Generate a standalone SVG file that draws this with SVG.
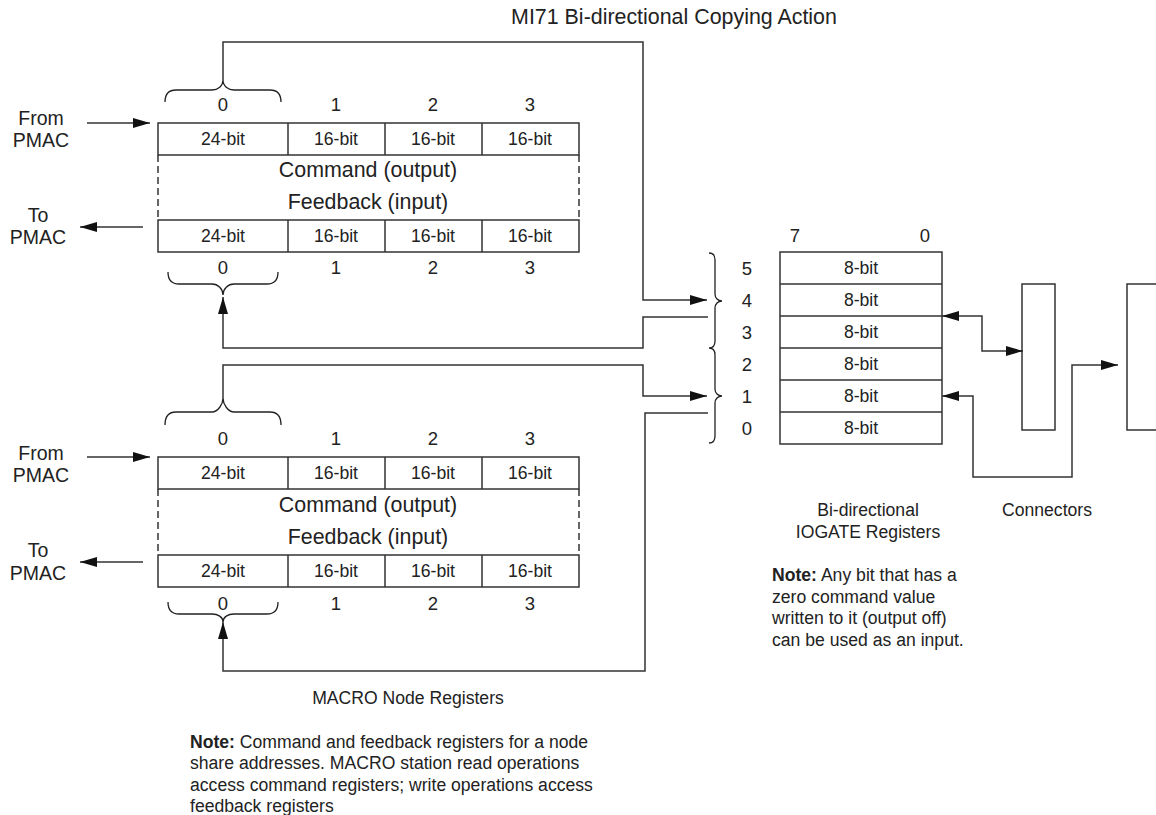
<svg xmlns="http://www.w3.org/2000/svg" width="1156" height="815" viewBox="0 0 1156 815">
<style>
text{font-family:"Liberation Sans",Arial,sans-serif;fill:#222;dominant-baseline:central}
.s{font-size:17.6px}
.m{font-size:18.5px}
.l{font-size:19.5px}
.t{font-size:21.4px}
.c{text-anchor:middle}
.b{font-weight:bold}
.box{fill:#fff;stroke:#333;stroke-width:1.5}
.ln{fill:none;stroke:#333;stroke-width:1.5}
.dash{fill:none;stroke:#333;stroke-width:1.5;stroke-dasharray:7 4}
.brace{fill:none;stroke:#222;stroke-width:1.3}
</style>
<defs>
<marker id="arr" viewBox="0 0 17 10" refX="17" refY="5" markerWidth="17" markerHeight="10" markerUnits="userSpaceOnUse" orient="auto-start-reverse"><path d="M0,0 L17,5 L0,10 z" fill="#111"/></marker>
</defs>
<rect width="1156" height="815" fill="#fff"/>
<text class="t c" x="674" y="17">MI71 Bi-directional Copying Action</text>

<g id="macro-node-1">
<text class="m c" x="223" y="104">0</text><text class="m c" x="336" y="104">1</text><text class="m c" x="433" y="104">2</text><text class="m c" x="530" y="104">3</text>
<rect class="box" x="158" y="123" width="421" height="32"/>
<path class="ln" d="M288,123V155M385,123V155M482,123V155"/>
<text class="s c" x="223" y="139">24-bit</text><text class="s c" x="336" y="139">16-bit</text><text class="s c" x="433" y="139">16-bit</text><text class="s c" x="530" y="139">16-bit</text>
<path class="dash" d="M158,155V220M579,155V220"/>
<text class="t c" x="368" y="170">Command (output)</text>
<text class="t c" x="368" y="202">Feedback (input)</text>
<rect class="box" x="158" y="220" width="421" height="32"/>
<path class="ln" d="M288,220V252M385,220V252M482,220V252"/>
<text class="s c" x="223" y="236">24-bit</text><text class="s c" x="336" y="236">16-bit</text><text class="s c" x="433" y="236">16-bit</text><text class="s c" x="530" y="236">16-bit</text>
<text class="m c" x="223" y="267">0</text><text class="m c" x="336" y="267">1</text><text class="m c" x="433" y="267">2</text><text class="m c" x="530" y="267">3</text>
<path class="brace" d="M165,102C165,94 168,90 176,90H212C218,90 223,86 223,80C223,86 228,90 234,90H270C278,90 281,94 281,102"/>
<path class="brace" d="M168,272C168,280 171,284 179,284H212C218,284 223,289 223,295C223,289 228,284 234,284H267C275,284 278,280 278,272"/>
<text class="l c" x="41" y="118">From</text><text class="l c" x="41" y="140">PMAC</text>
<text class="l c" x="38" y="215">To</text><text class="l c" x="38" y="237">PMAC</text>
</g>

<g id="macro-node-2">
<text class="m c" x="223" y="438">0</text><text class="m c" x="336" y="438">1</text><text class="m c" x="433" y="438">2</text><text class="m c" x="530" y="438">3</text>
<rect class="box" x="158" y="457" width="421" height="32"/>
<path class="ln" d="M288,457V489M385,457V489M482,457V489"/>
<text class="s c" x="223" y="473">24-bit</text><text class="s c" x="336" y="473">16-bit</text><text class="s c" x="433" y="473">16-bit</text><text class="s c" x="530" y="473">16-bit</text>
<path class="dash" d="M158,489V555M579,489V555"/>
<text class="t c" x="368" y="505">Command (output)</text>
<text class="t c" x="368" y="537">Feedback (input)</text>
<rect class="box" x="158" y="555" width="421" height="32"/>
<path class="ln" d="M288,555V587M385,555V587M482,555V587"/>
<text class="s c" x="223" y="571">24-bit</text><text class="s c" x="336" y="571">16-bit</text><text class="s c" x="433" y="571">16-bit</text><text class="s c" x="530" y="571">16-bit</text>
<text class="m c" x="223" y="603">0</text><text class="m c" x="336" y="603">1</text><text class="m c" x="433" y="603">2</text><text class="m c" x="530" y="603">3</text>
<path class="brace" d="M165,425C165,417 168,412 176,412H212C218,412 223,404 223,398C223,404 228,412 234,412H270C278,412 281,417 281,425"/>
<path class="brace" d="M168,602C168,610 171,614 179,614H212C218,614 223,617 223,622C223,617 228,614 234,614H267C275,614 278,610 278,602"/>
<text class="l c" x="41" y="453">From</text><text class="l c" x="41" y="475">PMAC</text>
<text class="l c" x="38" y="550">To</text><text class="l c" x="38" y="573">PMAC</text>
<text class="s c" x="408" y="698">MACRO Node Registers</text>
<text class="s" x="190" y="742"><tspan class="b">Note:</tspan> Command and feedback registers for a node</text>
<text class="s" x="190" y="763">share addresses. MACRO station read operations</text>
<text class="s" x="190" y="785">access command registers; write operations access</text>
<text class="s" x="190" y="806">feedback registers</text>
</g>

<g id="iogate">
<text class="m c" x="795" y="235">7</text><text class="m c" x="925" y="235">0</text>
<rect class="box" x="780" y="252" width="162" height="192"/>
<path class="ln" d="M780,284H942M780,316H942M780,348H942M780,380H942M780,412H942"/>
<text class="s c" x="861" y="268">8-bit</text><text class="s c" x="861" y="300">8-bit</text><text class="s c" x="861" y="332">8-bit</text><text class="s c" x="861" y="364">8-bit</text><text class="s c" x="861" y="396">8-bit</text><text class="s c" x="861" y="428">8-bit</text>
<text class="m c" x="747" y="268">5</text><text class="m c" x="747" y="300">4</text><text class="m c" x="747" y="332">3</text><text class="m c" x="747" y="364">2</text><text class="m c" x="747" y="396">1</text><text class="m c" x="747" y="428">0</text>
<path class="brace" d="M709,253C713,253 715,256 715,260V294C715,298 718,301 722,301C718,301 715,304 715,308V341C715,345 713,348 709,348C713,348 715,351 715,355V389C715,393 718,396 722,396C718,396 715,399 715,403V436C715,440 713,443 709,443"/>
<text class="s c" x="868" y="510">Bi-directional</text>
<text class="s c" x="868" y="532">IOGATE Registers</text>
<text class="s" x="772" y="575"><tspan class="b">Note:</tspan> Any bit that has a</text>
<text class="s" x="772" y="597">zero command value</text>
<text class="s" x="772" y="618">written to it (output off)</text>
<text class="s" x="772" y="640">can be used as an input.</text>
</g>

<g id="connector-1">
<rect class="box" x="1022" y="284" width="33" height="146"/>
<text class="s c" x="1047" y="510">Connectors</text>
</g>
<g id="connector-2">
<path class="ln" d="M1160,284H1127V430H1160"/>
</g>

<g id="connectors">
<path class="ln" d="M87,123H150" marker-end="url(#arr)"/>
<path class="ln" d="M143,227H80" marker-end="url(#arr)"/>
<path class="ln" d="M87,457H150" marker-end="url(#arr)"/>
<path class="ln" d="M143,562H80" marker-end="url(#arr)"/>
<path class="ln" d="M223,80V42H643V300H707" marker-end="url(#arr)"/>
<path class="ln" d="M708,317H643V348H223V297" marker-end="url(#arr)"/>
<path class="ln" d="M223,398V365H643V396H707" marker-end="url(#arr)"/>
<path class="ln" d="M708,413H645V671H223V622" marker-end="url(#arr)"/>
<path class="ln" d="M942,316H982V351H1023" marker-start="url(#arr)" marker-end="url(#arr)"/>
<path class="ln" d="M942,396H973V477H1072V365H1118" marker-start="url(#arr)" marker-end="url(#arr)"/>
</g>
</svg>
